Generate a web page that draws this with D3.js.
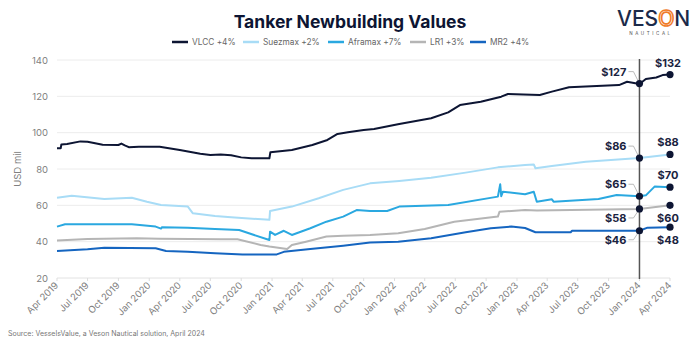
<!DOCTYPE html>
<html>
<head>
<meta charset="utf-8">
<script src="https://cdn.jsdelivr.net/npm/d3@7"></script>
<style>
  body { margin: 0; background: #fff; }
  svg { display: block; font-family: Inter, "Open Sans", sans-serif; }
</style>
</head>
<body>
<svg id="chart-svg"></svg>
<script>
const seriesNames = ["VLCC", "Suezmax", "Aframax", "LR1", "MR2"];
const seriesChange = ["+4%", "+2%", "+7%", "+3%", "+4%"];
const seriesColors = ["#0d1533", "#a8dcf6", "#2aa8e0", "#b5b5b5", "#1565c0"];

const vlcc = [
  ["2019-04-01", 91.4], ["2019-04-12", 91.4], ["2019-04-14", 93.5], ["2019-05-01", 93.8],
  ["2019-06-10", 95.2], ["2019-07-01", 95], ["2019-07-20", 94.3], ["2019-08-15", 93.3],
  ["2019-10-01", 93.2], ["2019-10-10", 94], ["2019-10-20", 93], ["2019-11-01", 92],
  ["2019-12-01", 92.3], ["2020-02-01", 92.3], ["2020-04-01", 90.5], ["2020-06-01", 88.4],
  ["2020-07-01", 87.7], ["2020-08-01", 88], ["2020-09-01", 87.6], ["2020-10-01", 86.4],
  ["2020-11-01", 85.9], ["2020-12-24", 85.9], ["2020-12-27", 89.2], ["2021-03-01", 90.5],
  ["2021-05-01", 93.2], ["2021-06-15", 96], ["2021-07-15", 99.3], ["2021-08-15", 100.2],
  ["2021-10-01", 101.5], ["2021-11-01", 102], ["2022-01-15", 104.8], ["2022-04-20", 107.9],
  ["2022-06-10", 111.2], ["2022-07-15", 115.2], ["2022-09-15", 117], ["2022-11-15", 119.8],
  ["2022-12-05", 121.3], ["2023-01-20", 121], ["2023-03-10", 120.7], ["2023-04-15", 122.6],
  ["2023-06-05", 125], ["2023-11-01", 126.2], ["2023-11-25", 128], ["2024-01-01", 126.8],
  ["2024-01-20", 129.5], ["2024-02-20", 130.4], ["2024-03-10", 131.7], ["2024-04-01", 132]
];
const suezmax = [
  ["2019-04-01", 64.2], ["2019-05-15", 65.3], ["2019-08-20", 63.5], ["2019-11-10", 64.2],
  ["2019-12-25", 62], ["2020-02-05", 60.2], ["2020-04-25", 59.3], ["2020-05-10", 55.6],
  ["2020-07-15", 54.1], ["2020-09-01", 53.5], ["2020-12-24", 52], ["2020-12-26", 56.9],
  ["2021-03-01", 59.3], ["2021-05-20", 63.9], ["2021-08-01", 68.5], ["2021-10-20", 72.1],
  ["2022-01-15", 73.4], ["2022-04-20", 75.2], ["2022-08-01", 78], ["2022-11-05", 80.9],
  ["2023-01-25", 82.2], ["2023-02-20", 82.5], ["2023-02-25", 80.4], ["2023-04-15", 81.6],
  ["2023-07-25", 84], ["2024-01-01", 86], ["2024-04-01", 88]
];
const aframax = [
  ["2019-04-01", 48.3], ["2019-04-25", 49.6], ["2019-11-10", 49.6], ["2020-01-20", 48.3],
  ["2020-02-05", 47.2], ["2020-02-08", 48], ["2020-04-25", 47.7], ["2020-07-15", 47],
  ["2020-09-25", 46.4], ["2020-12-24", 40.9], ["2020-12-26", 45.5], ["2021-01-10", 43.7],
  ["2021-02-05", 46], ["2021-03-01", 43.7], ["2021-04-25", 47.4], ["2021-06-12", 51],
  ["2021-08-01", 53.8], ["2021-09-10", 57.4], ["2021-10-20", 56.9], ["2021-12-10", 56.9],
  ["2022-01-15", 59.3], ["2022-06-10", 60.2], ["2022-11-05", 64.8], ["2022-11-12", 71.6],
  ["2022-11-15", 65], ["2022-11-20", 67.5], ["2023-01-25", 66.1], ["2023-02-20", 67.5],
  ["2023-03-01", 62], ["2023-04-15", 63.3], ["2023-04-20", 62], ["2023-09-01", 63.5],
  ["2023-10-25", 65.7], ["2024-01-01", 65], ["2024-01-20", 65.5], ["2024-02-15", 70.3],
  ["2024-04-01", 70]
];
const lr1 = [
  ["2019-04-01", 40.6], ["2019-07-01", 41.5], ["2019-11-25", 41.9], ["2020-01-30", 41.6],
  ["2020-08-01", 41.3], ["2020-09-20", 41.3], ["2020-11-28", 38.2], ["2020-12-24", 37.3],
  ["2021-02-15", 36], ["2021-03-01", 38.2], ["2021-04-12", 40], ["2021-06-12", 42.8],
  ["2021-08-01", 43.3], ["2021-10-20", 43.7], ["2022-01-12", 44.6], ["2022-04-01", 47],
  ["2022-06-28", 51], ["2022-11-05", 53.8], ["2022-11-10", 56.5], ["2023-01-25", 57.4],
  ["2023-03-01", 57.2], ["2024-01-01", 58], ["2024-04-01", 60]
];
const mr2 = [
  ["2019-04-01", 34.9], ["2019-07-01", 35.8], ["2019-08-20", 36.7], ["2020-01-20", 36.4],
  ["2020-02-20", 34.9], ["2020-04-25", 34.5], ["2020-07-15", 33.6], ["2020-10-05", 33],
  ["2021-01-15", 33], ["2021-02-05", 34.4], ["2021-04-25", 36], ["2021-08-01", 37.8],
  ["2021-10-20", 39.5], ["2022-01-12", 40], ["2022-04-20", 41.9], ["2022-08-01", 45.2],
  ["2022-10-15", 47.4], ["2022-12-15", 48.3], ["2023-01-25", 47.5], ["2023-02-25", 45.2],
  ["2023-06-10", 45.2], ["2023-06-14", 46], ["2024-01-01", 46], ["2024-01-25", 47.7],
  ["2024-04-01", 48]
];
const allSeries = [vlcc, suezmax, aframax, lr1, mr2];

// markers: Jan 2024 and Apr 2024
const markJan = [127, 86, 65, 58, 46];
const markApr = [132, 88, 70, 60, 48];
const labelBelow = [false, false, false, true, true];

const yTicks = [20, 40, 60, 80, 100, 120, 140];

const svgWidth = 700;
const svgHeight = 345;
const parse = d3.timeParse("%Y-%m-%d");

const svg = d3.select("#chart-svg").attr("width", svgWidth).attr("height", svgHeight);

const x = d3.scaleTime()
  .domain([parse("2019-04-01"), parse("2024-04-01")])
  .range([57, 670]);
const y = d3.scaleLinear().domain([20, 140]).range([278, 60]);

// title
svg.append("text")
  .attr("x", 350).attr("y", 28)
  .attr("text-anchor", "middle")
  .style("font-size", "17.5px").style("font-weight", 700)
  .attr("fill", "#0d1533")
  .text("Tanker Newbuilding Values");

// legend
const legendX = [172, 243, 328, 410, 470];
seriesNames.forEach((name, i) => {
  const g = svg.append("g").attr("transform", `translate(${legendX[i]}, 42)`);
  g.append("line").attr("x1", 0).attr("x2", 16).attr("y1", 0).attr("y2", 0)
    .attr("stroke", seriesColors[i]).attr("stroke-width", 2.5);
  g.append("text").attr("x", 20).attr("y", 3)
    .style("font-size", "8.3px").attr("fill", "#666")
    .text(`${name} ${seriesChange[i]}`);
});

// logo
const logo = svg.append("text")
  .attr("x", 617).attr("y", 26)
  .style("font-size", "21px").style("font-weight", 500)
  .attr("fill", "#1b2a4a");
logo.append("tspan").text("VES");
logo.append("tspan").attr("fill", "#fff").attr("stroke", "#f07c28").attr("stroke-width", 1.6).text("O");
logo.append("tspan").text("N");
svg.append("text")
  .attr("x", 651).attr("y", 35)
  .attr("text-anchor", "middle")
  .style("font-size", "4.5px").style("letter-spacing", "2.6px")
  .attr("fill", "#555")
  .text("NAUTICAL");

// grid + y labels
svg.append("g").selectAll("line").data(yTicks).join("line")
  .attr("x1", 57).attr("x2", 670)
  .attr("y1", (d) => y(d)).attr("y2", (d) => y(d))
  .attr("stroke", (d) => (d === 20 ? "#e2e2e2" : "#ececec"))
  .attr("stroke-width", 1);
svg.append("g").selectAll("text").data(yTicks).join("text")
  .attr("x", 48).attr("y", (d) => y(d) + 3.5)
  .attr("text-anchor", "end")
  .style("font-size", "9.5px").attr("fill", "#808080")
  .text((d) => d);
svg.append("text")
  .attr("transform", "rotate(-90)")
  .attr("x", -169).attr("y", 21)
  .attr("text-anchor", "middle")
  .style("font-size", "9.5px").attr("fill", "#808080")
  .text("USD mil");

// x axis
const xTicks = d3.timeMonth.range(parse("2019-04-01"), parse("2024-04-02"), 3);
const fmt = d3.timeFormat("%b %Y");
svg.append("g").selectAll("line").data(xTicks).join("line")
  .attr("x1", (d) => x(d)).attr("x2", (d) => x(d))
  .attr("y1", 278).attr("y2", 281)
  .attr("stroke", "#ddd");
svg.append("g").selectAll("text").data(xTicks).join("text")
  .attr("transform", (d) => `translate(${x(d) + 2}, 286) rotate(-45)`)
  .attr("text-anchor", "end")
  .style("font-size", "9.5px").attr("fill", "#808080")
  .text((d) => fmt(d));

// lines
const line = d3.line()
  .x((d) => x(parse(d[0])))
  .y((d) => y(d[1]));
[4, 3, 2, 1, 0].forEach((i) => {
  svg.append("path")
    .datum(allSeries[i])
    .attr("fill", "none")
    .attr("stroke", seriesColors[i])
    .attr("stroke-width", 2)
    .attr("stroke-linejoin", "round")
    .attr("d", line);
});

// vertical marker line
const xJan = x(parse("2024-01-01"));
const xApr = x(parse("2024-04-01"));
svg.append("line")
  .attr("x1", xJan).attr("x2", xJan).attr("y1", 59).attr("y2", 279)
  .attr("stroke", "#555").attr("stroke-width", 1.5);

// markers and labels
markJan.forEach((v, i) => {
  const below = labelBelow[i];
  const yj = y(v);
  const ya = y(markApr[i]);
  const ly = below ? yj + 13 : yj - 8;
  svg.append("path")
    .attr("d", `M${xJan - 11},${ly - 4}L${xJan - 6},${ly - 4}L${xJan},${yj}`)
    .attr("fill", "none").attr("stroke", "#aaa").attr("stroke-width", 0.8);
  svg.append("text")
    .attr("x", xJan - 13).attr("y", ly)
    .attr("text-anchor", "end")
    .style("font-size", "11px").style("font-weight", 700)
    .attr("fill", "#1a2340")
    .text(`$${v}`);
  svg.append("circle").attr("cx", xJan).attr("cy", yj).attr("r", 3.6).attr("fill", "#0d1533");

  const la = below ? ya + 17 : ya - 8;
  svg.append("text")
    .attr("x", xApr - 2).attr("y", la)
    .attr("text-anchor", "middle")
    .style("font-size", "11px").style("font-weight", 700)
    .attr("fill", "#1a2340")
    .text(`$${markApr[i]}`);
  svg.append("circle").attr("cx", xApr).attr("cy", ya).attr("r", 3.6).attr("fill", "#0d1533");
});

// source
svg.append("text")
  .attr("x", 8).attr("y", 336)
  .style("font-size", "7px").attr("fill", "#777")
  .text("Source: VesselsValue, a Veson Nautical solution, April 2024");
</script>
</body>
</html>
